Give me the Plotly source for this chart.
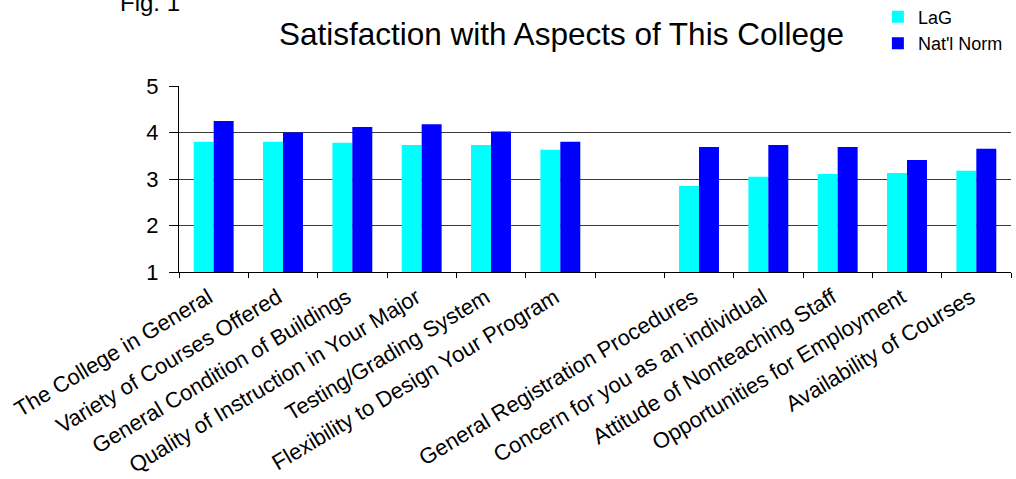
import plotly.graph_objects as go

categories = [
    "The College in General",
    "Variety of Courses Offered",
    "General Condition of Buildings",
    "Quality of Instruction in Your Major",
    "Testing/Grading System",
    "Flexibility to Design Your Program",
    " ",
    "General Registration Procedures",
    "Concern for you as an individual",
    "Attitude of Nonteaching Staff",
    "Opportunities for Employment",
    "Availability of Courses",
]
lag_values = [3.80, 3.80, 3.78, 3.73, 3.73, 3.63, None, 2.85, 3.05, 3.11, 3.13, 3.18]
norm_values = [4.25, 4.00, 4.12, 4.18, 4.02, 3.80, None, 3.69, 3.73, 3.69, 3.41, 3.65]
y_ticks = [1, 2, 3, 4, 5]

FONT = "Liberation Sans, Arial, sans-serif"

fig = go.Figure()
fig.add_trace(go.Bar(name="LaG", x=categories, y=lag_values, marker_color="#00FFFF",
                     marker_line_width=0))
fig.add_trace(go.Bar(name="Nat'l Norm", x=categories, y=norm_values, marker_color="#0000FF",
                     marker_line_width=0))

fig.update_layout(
    width=1016, height=479,
    margin=dict(l=179, r=5, t=86, b=207, autoexpand=False),
    paper_bgcolor="white", plot_bgcolor="white",
    barmode="group", bargap=0.424, bargroupgap=0,
    font=dict(family=FONT, color="black"),
    showlegend=True,
    legend=dict(x=0.840, xanchor="left", y=1.47, yanchor="top",
                font=dict(size=18, family=FONT), bgcolor="rgba(0,0,0,0)",
                tracegroupgap=0, itemwidth=30),
)

fig.update_yaxes(
    range=[1, 5], tickvals=y_ticks, showgrid=True, gridcolor="#3a3a3a", gridwidth=1,
    showline=True, linecolor="black", linewidth=1,
    ticks="outside", ticklen=9, tickcolor="black", ticklabelstandoff=6,
    tickfont=dict(size=22, family=FONT), zeroline=False, automargin=False,
)
fig.update_xaxes(
    type="category", showline=True, linecolor="black", linewidth=1,
    ticks="outside", ticklen=5, tickcolor="black", tickson="boundaries",
    tickangle=-31, tickfont=dict(size=22, family=FONT), ticksuffix=" ",
    showgrid=False, automargin=False,
)

fig.add_annotation(text="Satisfaction with Aspects of This College", xref="paper", yref="paper",
                   x=0.460, y=1.28, xanchor="center", yanchor="middle", showarrow=False,
                   font=dict(size=31.5, family=FONT))
fig.add_annotation(text="Fig. 1", xref="paper", yref="paper",
                   x=-0.035, y=1.365, xanchor="center", yanchor="bottom", showarrow=False,
                   font=dict(size=24, family=FONT))

fig.write_html(
    "out.html",
    config={"displayModeBar": False},
    post_script="document.body.style.margin='0';document.body.style.overflow='hidden';",
)
